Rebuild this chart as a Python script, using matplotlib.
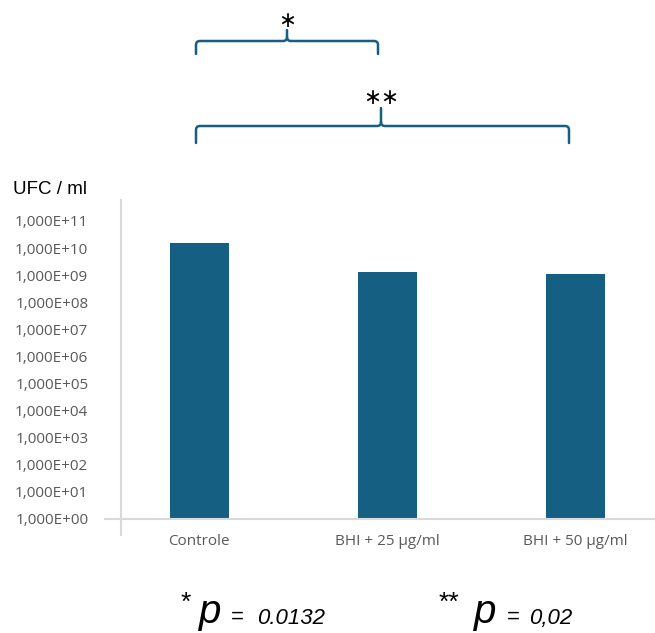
import numpy as np
import matplotlib
matplotlib.use("Agg")
import matplotlib.pyplot as plt
from matplotlib.path import Path
from matplotlib.patches import PathPatch
from matplotlib.lines import Line2D

# Data
categories = ["Controle", "BHI + 25 µg/ml", "BHI + 50 µg/ml"]
ufc_values = [1.5e10, 1.25e9, 1.1e9]
tick_exponents = list(range(0, 12))
tick_labels = [f"1,000E+{e:02d}" for e in tick_exponents]
y_label = "UFC / ml"

W, H = 655, 633
BAR = "#156082"
AXIS = "#D9D9D9"
TICK = "#595959"

fig = plt.figure(figsize=(W / 100, H / 100), dpi=100)


def fx(px):
    return px / W


def fy(py):
    return 1 - py / H


ax_left, ax_right = 121, 655
ax_top, ax_bottom = 200, 519
ax = fig.add_axes([fx(ax_left), fy(ax_bottom), fx(ax_right - ax_left), fy(ax_top) - fy(ax_bottom)])

x = np.arange(len(categories))
spacing = 188.0
center0 = 199.0
ax.bar(x, ufc_values, width=59 / spacing, color=BAR, zorder=3)
ax.set_yscale("log")
ax.set_ylim(1, 10 ** ((ax_bottom - ax_top) / 27.1))
ax.set_xlim(-(center0 - ax_left) / spacing, len(categories) - 1 + (ax_right - (center0 + 2 * spacing)) / spacing)

ax.set_yticks([10.0 ** e for e in tick_exponents])
ax.set_yticklabels(tick_labels)
ax.yaxis.set_minor_locator(matplotlib.ticker.NullLocator())
ax.set_xticks(x)
ax.set_xticklabels(categories)
ax.tick_params(axis="y", length=0, pad=23.5, labelsize=11, labelcolor=TICK)
ax.tick_params(axis="x", length=0, pad=11, labelsize=11, labelcolor=TICK)
for lab in ax.get_yticklabels() + ax.get_xticklabels():
    lab.set_fontfamily("Open Sans")
for s in ax.spines.values():
    s.set_visible(False)

# Axis lines drawn across the corner
fig.add_artist(Line2D([fx(121), fx(121)], [fy(200), fy(535)], color=AXIS, lw=1.5))
fig.add_artist(Line2D([fx(105), fx(655)], [fy(519), fy(519)], color=AXIS, lw=1.5))

fig.text(fx(13), fy(190), y_label, fontsize=13.5, family="Liberation Sans", va="center", ha="left")


def brace(x0, x1, xm, y_line, y_end, y_tip, r=4):
    verts = [
        (x0, y_end), (x0, y_line + r), (x0, y_line), (x0 + r, y_line),
        (xm - r, y_line), (xm, y_line), (xm, y_line - r), (xm, y_tip),
    ]
    codes = [Path.MOVETO, Path.LINETO, Path.CURVE3, Path.CURVE3,
             Path.LINETO, Path.CURVE3, Path.CURVE3, Path.LINETO]
    verts2 = [
        (x1, y_end), (x1, y_line + r), (x1, y_line), (x1 - r, y_line),
        (xm + r, y_line), (xm, y_line), (xm, y_line - r),
    ]
    codes2 = [Path.MOVETO, Path.LINETO, Path.CURVE3, Path.CURVE3,
              Path.LINETO, Path.CURVE3, Path.CURVE3]
    for vv, cc in ((verts, codes), (verts2, codes2)):
        pv = [(fx(a), fy(b)) for a, b in vv]
        fig.add_artist(PathPatch(Path(pv, cc), fill=False, edgecolor=BAR, lw=1.8,
                                 transform=fig.transFigure, capstyle="round"))


brace(196, 378, 287, 41, 54, 30)
brace(196, 569, 381, 126, 143, 108)
fig.text(fx(287), fy(21), "∗", fontsize=15.5, ha="center", va="center", family="DejaVu Sans")
fig.text(fx(381), fy(98), "∗∗", fontsize=15.5, ha="center", va="center", family="DejaVu Sans")


# p-values
def pnote(x_star, stars, x_p, x_eq, x_val, val):
    fig.text(fx(x_star), fy(591), stars, fontsize=19, ha="left", va="top", family="Liberation Sans")
    fig.text(fx(x_p), fy(623), "p", fontsize=29, style="italic", ha="left", va="baseline", family="Liberation Sans")
    fig.text(fx(x_eq), fy(623), "=", fontsize=16, ha="left", va="baseline", family="Liberation Sans")
    fig.text(fx(x_val), fy(624), val, fontsize=16, style="italic", ha="left", va="baseline", family="Liberation Sans")


pnote(181, "*", 199, 231, 257, "0.0132")
pnote(439, "**", 474, 507, 529, "0,02")

fig.savefig("out.png", dpi=100)
